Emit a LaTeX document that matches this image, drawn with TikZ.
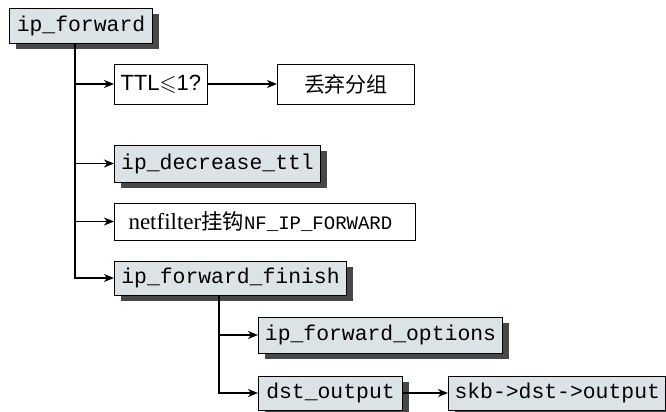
\documentclass[tikz,border=0pt]{standalone}
\usepackage{fontspec}
\usepackage{amssymb}
\setmainfont{Liberation Serif}
\setsansfont{Liberation Sans}
\setmonofont{Liberation Mono}
\newfontfamily\cjk{Noto Sans CJK SC}
\usetikzlibrary{shadows,arrows.meta}
\definecolor{boxgray}{RGB}{220,227,231}
\definecolor{shadowgray}{RGB}{72,72,72}
\tikzset{
  fnbox/.style={draw, line width=0.5pt, fill=boxgray, anchor=west, inner xsep=3pt,
    font=\ttfamily\fontsize{10.7}{12}\selectfont,
    drop shadow={shadow xshift=3pt, shadow yshift=-3pt, fill=shadowgray, opacity=1}},
  plainbox/.style={draw, line width=0.5pt, fill=white, anchor=west, inner xsep=3pt},
  link/.style={->, line width=0.9pt}
}
\begin{document}
\begin{tikzpicture}[x=0.5pt, y=-0.5pt, >={Stealth[length=5pt, width=4pt, inset=1.5pt]}]
  \useasboundingbox (0,0) rectangle (666,412);
  % function boxes
  \node[fnbox, minimum width=71.5pt, minimum height=17.5pt] (fwd) at (9,25.5) {ip\_forward};
  \node[plainbox, minimum width=44pt, minimum height=20pt,
        font=\sffamily\fontsize{11}{12}\selectfont] (ttl) at (114,84) {TTL$\leqslant$1?};
  \node[plainbox, minimum width=68.5pt, minimum height=20pt,
        font=\cjk\fontsize{10.5}{12}\selectfont] (drop) at (277,84) {丢弃分组};
  \node[fnbox, minimum width=103pt, minimum height=18.5pt] (dec) at (114,163.5) {ip\_decrease\_ttl};
  \node[plainbox, inner xsep=7pt, text width=136.5pt, align=left, minimum height=18.5pt,
        font=\rmfamily\fontsize{11.5}{12}\selectfont] (nf) at (114,221.5)
        {netfilter{\cjk\fontsize{10.7}{12}\selectfont 挂钩}{\ttfamily\fontsize{9.5}{12}\selectfont NF\_IP\_FORWARD}};
  \node[fnbox, minimum width=116pt, minimum height=17pt] (fin) at (114,278) {ip\_forward\_finish};
  \node[fnbox, minimum width=122pt, minimum height=18pt] (opt) at (258,335) {ip\_forward\_options};
  \node[fnbox, minimum width=72pt, minimum height=17pt] (dst) at (258,393) {dst\_output};
  \node[fnbox, minimum width=108.5pt, minimum height=17pt] (skb) at (448,393) {skb->dst->output};
  % trunks
  \coordinate (t1) at ([xshift=33pt]fwd.south west);
  \coordinate (t2) at ([xshift=52.5pt]fin.south west);
  \draw[link] (t1) |- (ttl);
  \draw[link] (t1) |- (dec);
  \draw[link] (t1) |- (nf);
  \draw[link] (t1) |- (fin);
  \draw[link] (ttl) -- (drop);
  \draw[link] (t2) |- (opt);
  \draw[link] (t2) |- (dst);
  \draw[link] (dst) -- (skb);
\end{tikzpicture}
\end{document}
